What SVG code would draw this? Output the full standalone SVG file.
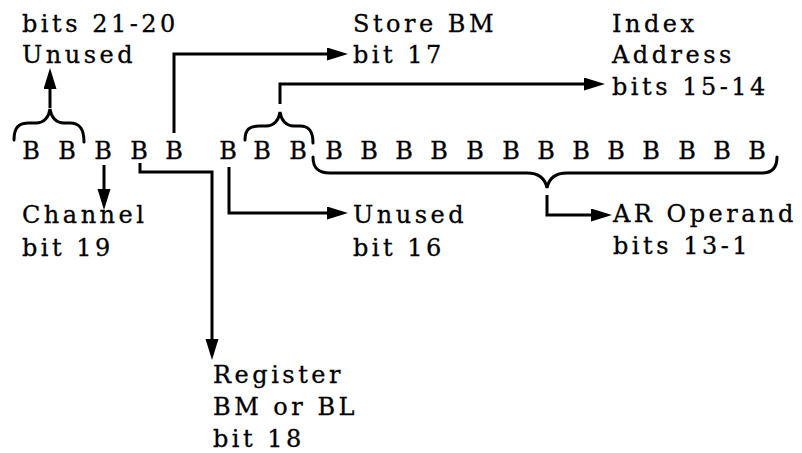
<svg xmlns="http://www.w3.org/2000/svg" width="802" height="453" viewBox="0 0 802 453">
<style>
text{font-family:"DejaVu Serif","Liberation Serif",serif;font-size:24px;fill:#000;stroke:#000;stroke-width:0.3}
.lbl{letter-spacing:3.5px}
.b{text-anchor:middle}
.ln{fill:none;stroke:#000;stroke-width:3;stroke-linejoin:miter}
.br{fill:none;stroke:#000;stroke-width:3;stroke-linecap:round}
</style>
<defs>
<marker id="ah" markerUnits="userSpaceOnUse" markerWidth="24" markerHeight="14" refX="13" refY="6.5" orient="auto">
<path d="M0,0 L21,6.5 L0,13 z" fill="#000"/>
</marker>
</defs>
<rect width="802" height="453" fill="#fff"/>
<g id="bits">
<text class="b" x="31" y="159">B</text>
<text class="b" x="67" y="159">B</text>
<text class="b" x="103" y="159">B</text>
<text class="b" x="139" y="159">B</text>
<text class="b" x="174" y="159">B</text>
<text class="b" x="228" y="159">B</text>
<text class="b" x="262" y="159">B</text>
<text class="b" x="298" y="159">B</text>
<text class="b" x="334" y="159">B</text>
<text class="b" x="369" y="159">B</text>
<text class="b" x="404" y="159">B</text>
<text class="b" x="439" y="159">B</text>
<text class="b" x="475" y="159">B</text>
<text class="b" x="511" y="159">B</text>
<text class="b" x="546" y="159">B</text>
<text class="b" x="581" y="159">B</text>
<text class="b" x="616" y="159">B</text>
<text class="b" x="651" y="159">B</text>
<text class="b" x="687" y="159">B</text>
<text class="b" x="722" y="159">B</text>
<text class="b" x="757" y="159">B</text>
</g>
<g id="braces">
<path class="br" d="M14,140 C14,127 19,123 29,123 L36,123 C44,123 49,117 50,109 C51,117 56,123 64,123 L70,123 C79,123 84,128 84,142"/>
<path class="br" d="M245,140 C245,129 250,126 259,126 L266,126 C274,126 279,120 280,112 C281,120 286,126 294,126 L300,126 C309,126 313,131 313,143"/>
<path class="br" d="M313,157 C313,168 318,173 330,173 L527,173 C539,173 545,178 547,188 C549,178 555,173 567,173 L762,173 C772,173 777,168 777,157"/>
</g>
<g id="connectors">
<path class="ln" d="M50,108 L50,76" marker-end="url(#ah)"/>
<path class="ln" d="M174,133 L174,54 L340,54" marker-end="url(#ah)"/>
<path class="ln" d="M280,104 L280,84 L597,84" marker-end="url(#ah)"/>
<path class="ln" d="M104,165 L104,202" marker-end="url(#ah)"/>
<path class="ln" d="M140,163 L140,172 L212,172 L212,352" marker-end="url(#ah)"/>
<path class="ln" d="M229,167 L229,213 L340,213" marker-end="url(#ah)"/>
<path class="ln" d="M547,195 L547,215 L604,215" marker-end="url(#ah)"/>
</g>
<g id="label-unused-21-20">
<text class="lbl" x="22" y="32">bits 21-20</text>
<text class="lbl" x="22" y="63">Unused</text>
</g>
<g id="label-store-bm">
<text class="lbl" x="353" y="32">Store BM</text>
<text class="lbl" x="353" y="63">bit 17</text>
</g>
<g id="label-index">
<text class="lbl" x="612" y="32">Index</text>
<text class="lbl" x="612" y="63">Address</text>
<text class="lbl" x="612" y="95">bits 15-14</text>
</g>
<g id="label-channel">
<text class="lbl" x="22" y="223">Channel</text>
<text class="lbl" x="22" y="256">bit 19</text>
</g>
<g id="label-unused-16">
<text class="lbl" x="353" y="223">Unused</text>
<text class="lbl" x="353" y="256">bit 16</text>
</g>
<g id="label-ar">
<text class="lbl" x="613" y="222">AR Operand</text>
<text class="lbl" x="613" y="254">bits 13-1</text>
</g>
<g id="label-register">
<text class="lbl" x="213" y="383">Register</text>
<text class="lbl" x="213" y="415">BM or BL</text>
<text class="lbl" x="213" y="447">bit 18</text>
</g>
</svg>
